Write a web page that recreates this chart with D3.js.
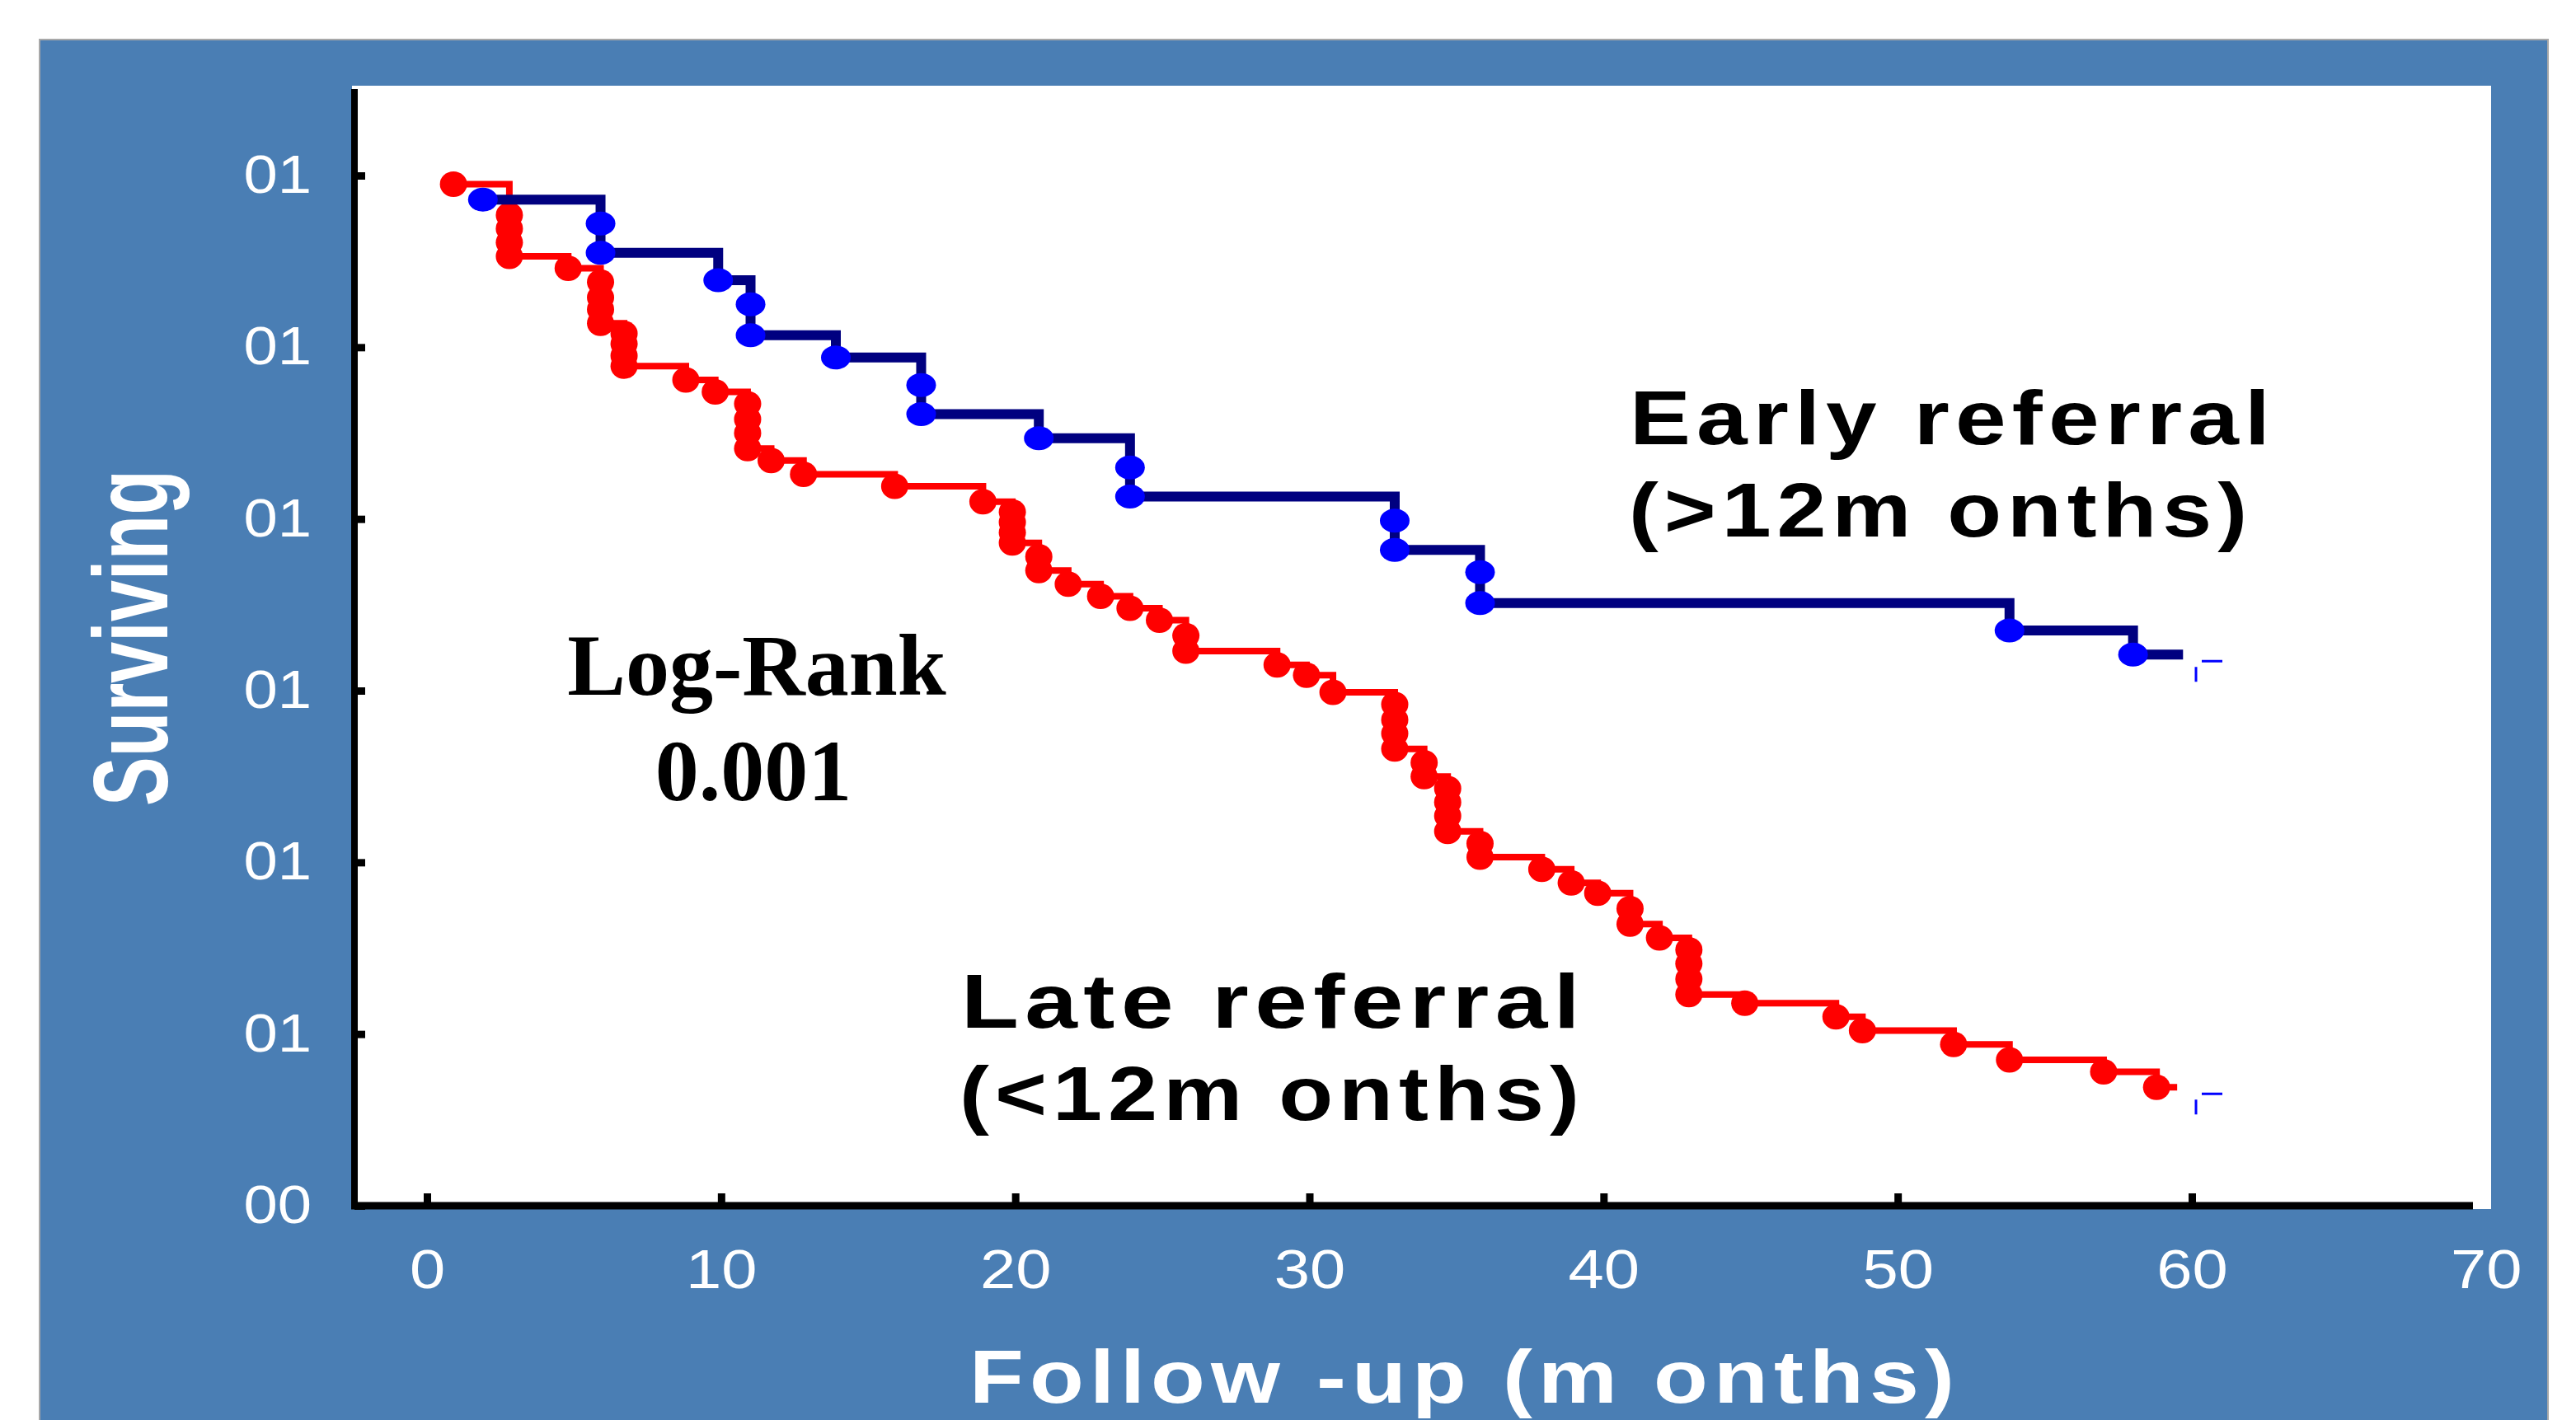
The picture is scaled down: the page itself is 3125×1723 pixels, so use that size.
<!DOCTYPE html>
<html lang="en">
<head>
<meta charset="utf-8">
<script src="https://d3js.org/d3.v7.min.js"></script>
<style>
  body { margin: 0; background: #fff; }
  svg text { font-family: "Liberation Sans", Arial, sans-serif; }
</style>
</head>
<body>
<script>
// tick labels exactly as printed on the slide
const yTicks = [0.4, 0.5, 0.6, 0.7, 0.8, 0.9, 1.0]
const yTickLabels = ["00", "01", "01", "01", "01", "01", "01"]
const xTicks = [0, 10, 20, 30, 40, 50, 60, 70]
const xTickMarks = [0, 10, 20, 30, 40, 50, 60]

// early referral (>12 months): event times and survival after each event
const earlyT = [1.9, 5.9, 5.9, 9.9, 11.0, 11.0, 13.9, 16.8, 16.8, 20.8, 23.9, 23.9,
                32.9, 32.9, 35.8, 35.8, 53.8, 58.0]
const earlyS = [0.986, 0.972, 0.955, 0.939, 0.925, 0.907, 0.894, 0.878, 0.861, 0.847, 0.830, 0.813,
                0.799, 0.782, 0.769, 0.751, 0.735, 0.721]

// late referral (<12 months)
const lateT = [0.9, 2.8, 2.8, 2.8, 2.8, 4.8, 5.9, 5.9, 5.9, 5.9, 6.7, 6.7, 6.7, 6.7,
               8.8, 9.8, 10.9, 10.9, 10.9, 10.9, 11.7, 12.8, 15.9, 18.9,
               19.9, 19.9, 19.9, 19.9, 20.8, 20.8, 21.8, 22.9, 23.9, 24.9, 25.8, 25.8,
               28.9, 29.9, 30.8, 32.9, 32.9, 32.9, 32.9, 33.9, 33.9,
               34.7, 34.7, 34.7, 34.7, 35.8, 35.8, 37.9, 38.9, 39.8, 40.9, 40.9, 41.9,
               42.9, 42.9, 42.9, 42.9, 44.8, 47.9, 48.8, 51.9, 53.8, 57.0, 58.8]
const lateS = [0.995, 0.977, 0.969, 0.961, 0.953, 0.946, 0.938, 0.929, 0.922, 0.914, 0.908, 0.902, 0.895, 0.889,
               0.881, 0.874, 0.867, 0.858, 0.850, 0.841, 0.834, 0.826, 0.819, 0.810,
               0.804, 0.798, 0.792, 0.786, 0.778, 0.770, 0.762, 0.755, 0.748, 0.741, 0.732, 0.723,
               0.715, 0.709, 0.699, 0.692, 0.683, 0.675, 0.666, 0.658, 0.650,
               0.643, 0.635, 0.627, 0.618, 0.611, 0.603, 0.596, 0.588, 0.582, 0.573, 0.564, 0.556,
               0.549, 0.541, 0.532, 0.523, 0.518, 0.510, 0.502, 0.494, 0.485, 0.478, 0.469]

const earlyEnd = 59.7
const lateEnd = 59.5
const censorT = 60

const W = 3125, H = 1723
// the slide was stretched sideways, so text glyphs are wider than normal
const stretch = 1.16

const svg = d3.select("body")
    .append("svg")
    .attr("width", W)
    .attr("height", H)

// blue slide background
svg.append("rect")
    .attr("x", 48).attr("y", 48)
    .attr("width", 3043).attr("height", H)
    .attr("fill", "#4a7eb4")
    .attr("stroke", "#a8a8a8")
    .attr("stroke-width", 2)

// white plot panel
svg.append("rect")
    .attr("x", 427).attr("y", 104)
    .attr("width", 2595).attr("height", 1363)
    .attr("fill", "#fff")

var xScale = d3.scaleLinear()
    .domain([0, 60])
    .range([518, 2659])
var yScale = d3.scaleLinear()
    .domain([0.4, 1.0])
    .range([1463, 213])

function widen(sel, k) {
    sel.each(function () {
        const w = this.getComputedTextLength()
        d3.select(this)
            .attr("textLength", w * k)
            .attr("lengthAdjust", "spacingAndGlyphs")
    })
}

// y labels
svg.append("g")
    .attr("transform", "translate(430,0)")
    .call(d3.axisLeft(yScale).tickValues(yTicks).tickSize(0).tickPadding(52)
        .tickFormat((d, i) => yTickLabels[i]))
    .call(g => g.select(".domain").remove())
    .selectAll("text")
    .attr("fill", "#fff")
    .style("font-size", "64px")
    .call(widen, stretch)

// y ticks (pointing into the plot)
svg.append("g")
    .attr("transform", "translate(430,0)")
    .call(d3.axisRight(yScale).tickValues(yTicks).tickSize(13).tickFormat(""))
    .call(g => g.select(".domain").remove())
    .selectAll("line")
    .attr("stroke", "#000")
    .attr("stroke-width", 9)

// x labels
svg.append("g")
    .attr("transform", "translate(0,1463)")
    .call(d3.axisBottom(xScale).tickValues(xTicks).tickSize(0).tickPadding(52))
    .call(g => g.select(".domain").remove())
    .selectAll("text")
    .attr("fill", "#fff")
    .style("font-size", "67px")
    .call(widen, stretch)

// x ticks (pointing up)
svg.append("g")
    .attr("transform", "translate(0,1463)")
    .call(d3.axisTop(xScale).tickValues(xTickMarks).tickSize(15).tickFormat(""))
    .call(g => g.select(".domain").remove())
    .selectAll("line")
    .attr("stroke", "#000")
    .attr("stroke-width", 9)

// axis lines
svg.append("line")
    .attr("x1", 430).attr("y1", 108).attr("x2", 430).attr("y2", 1467)
    .attr("stroke", "#000").attr("stroke-width", 8)
svg.append("line")
    .attr("x1", 426).attr("y1", 1463).attr("x2", 3000).attr("y2", 1463)
    .attr("stroke", "#000").attr("stroke-width", 9)

function drawSeries(T, S, endT, lineColor, lineW, dotColor, rx, ry) {
    const pts = T.map((t, i) => ({ t: t, s: S[i] }))
    const linePts = pts.concat([{ t: endT, s: S[S.length - 1] }])

    svg.append("path")
        .datum(linePts)
        .attr("fill", "none")
        .attr("stroke", lineColor)
        .attr("stroke-width", lineW)
        .attr("d", d3.line()
            .x(d => xScale(d.t))
            .y(d => yScale(d.s))
            .curve(d3.curveStepAfter))

    svg.append("g")
        .selectAll("ellipse")
        .data(pts)
        .enter()
        .append("ellipse")
        .attr("cx", d => xScale(d.t))
        .attr("cy", d => yScale(d.s))
        .attr("rx", rx)
        .attr("ry", ry)
        .attr("fill", dotColor)

    // small censor mark at the end of follow-up
    const cx = xScale(censorT), cy = yScale(S[S.length - 1])
    svg.append("line")
        .attr("x1", cx + 12).attr("x2", cx + 37)
        .attr("y1", cy + 8).attr("y2", cy + 8)
        .attr("stroke", "#0000ff").attr("stroke-width", 3)
    svg.append("line")
        .attr("x1", cx + 5).attr("x2", cx + 5)
        .attr("y1", cy + 15).attr("y2", cy + 33)
        .attr("stroke", "#0000ff").attr("stroke-width", 3)
}

drawSeries(lateT, lateS, lateEnd, "#ff0000", 8, "#ff0000", 16.5, 15.5)
drawSeries(earlyT, earlyS, earlyEnd, "#000080", 12, "#0000ff", 18, 14.5)

// bold sans labels: a little tracking, then stretched to the measured width
function label(txt, x, y, len, size, color) {
    svg.append("text")
        .attr("x", x).attr("y", y)
        .attr("textLength", len)
        .attr("lengthAdjust", "spacingAndGlyphs")
        .style("font-size", size + "px")
        .style("font-weight", "bold")
        .style("letter-spacing", "6px")
        .attr("fill", color)
        .text(txt)
}
label("Early referral", 1977, 539, 784, 93, "#000")
label("(>12m onths)", 1976, 651, 757, 93, "#000")
label("Late referral", 1166, 1247, 758, 92, "#000")
label("(<12m onths)", 1164, 1359, 759, 92, "#000")

svg.append("text")
    .attr("x", 918).attr("y", 843)
    .attr("text-anchor", "middle")
    .style("font-family", "'Liberation Serif', 'Times New Roman', serif")
    .style("font-size", "106px")
    .style("font-weight", "bold")
    .text("Log-Rank")
svg.append("text")
    .attr("x", 914).attr("y", 971)
    .attr("text-anchor", "middle")
    .style("font-family", "'Liberation Serif', 'Times New Roman', serif")
    .style("font-size", "106px")
    .style("font-weight", "bold")
    .text("0.001")

// axis titles
label("Follow -up (m onths)", 1176, 1702, 1202, 91, "#fff")

svg.append("text")
    .attr("transform", "translate(203,774) rotate(-90)")
    .attr("text-anchor", "middle")
    .attr("textLength", 408)
    .attr("lengthAdjust", "spacingAndGlyphs")
    .attr("fill", "#fff")
    .style("font-size", "128px")
    .style("font-weight", "bold")
    .text("Surviving")
</script>
</body>
</html>
